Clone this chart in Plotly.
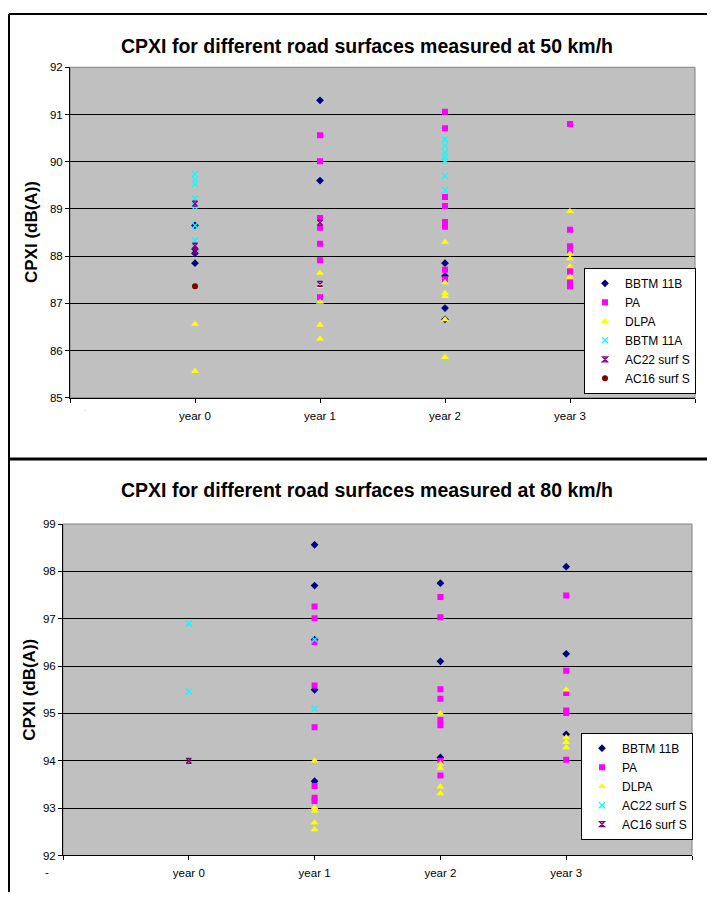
import plotly.graph_objects as go

# page body has an 8px margin; size the figure so the page fits the 715x906 window
OFF = 8
W, H = 715 - 2 * OFF, 906 - 2 * OFF
FONT = "Liberation Sans, Arial, sans-serif"

years = ["year 0", "year 1", "year 2", "year 3"]

# ---- 50 km/h (values per year: year 0, year 1, year 2, year 3) ----
bbtm11b_50 = [[88.65, 88.15, 88.06, 87.85], [91.3, 89.6], [87.85, 87.58, 86.9, 86.66], []]
pa_50 = [[], [90.56, 90.01, 88.81, 88.6, 88.26, 87.91, 87.13],
         [91.06, 90.71, 89.25, 89.06, 88.72, 88.62, 87.71, 87.51],
         [90.8, 88.56, 88.21, 88.08, 87.71, 87.67, 87.44, 87.36]]
dlpa_50 = [[86.56, 85.56], [87.64, 87.36, 87.03, 86.54, 86.25],
           [88.3, 87.44, 87.22, 87.15, 86.66, 85.86], [88.95, 88.05, 87.95, 87.78, 87.56]]
bbtm11a_50 = [[89.74, 89.63, 89.53, 89.22, 89.04, 88.65, 88.33], [],
              [90.47, 90.33, 90.2, 90.1, 90.02, 89.7, 89.4], []]
ac22_50 = [[89.11, 88.22, 88.1], [88.71, 87.41], [], []]
ac16_50 = [[87.36], [], [], []]

# ---- 80 km/h ----
bbtm11b_80 = [[], [98.56, 97.7, 96.56, 95.5, 93.57], [97.75, 96.1, 94.07], [98.1, 96.26, 94.56]]
pa_80 = [[], [97.26, 97.01, 96.51, 95.59, 94.71, 93.47, 93.22, 93.15],
         [97.46, 97.03, 95.51, 95.31, 94.86, 94.75, 94.0, 93.69],
         [97.49, 95.9, 95.43, 95.06, 95.01, 94.02]]
dlpa_80 = [[], [94.0, 93.01, 92.94, 92.69, 92.55], [95.0, 93.94, 93.85, 93.45, 93.31],
           [95.5, 94.49, 94.39, 94.28]]
ac22_80 = [[96.9, 95.46], [96.56, 95.1], [], []]
ac16_80 = [[94.0], [], [], []]

series_50 = [
    ("BBTM 11B", bbtm11b_50, "diamond", "#000080", 6),
    ("PA", pa_50, "square", "#FF00FF", 6),
    ("DLPA", dlpa_50, "triangle-up", "#FFFF00", 7),
    ("BBTM 11A", bbtm11a_50, "x-thin-open", "#00FFFF", 6),
    ("AC22 surf S", ac22_50, "hourglass-open", "#800080", 5),
    ("AC16 surf S", ac16_50, "circle", "#800000", 6),
]
series_80 = [
    ("BBTM 11B", bbtm11b_80, "diamond", "#000080", 6),
    ("PA", pa_80, "square", "#FF00FF", 6),
    ("DLPA", dlpa_80, "triangle-up", "#FFFF00", 7),
    ("AC22 surf S", ac22_80, "x-thin-open", "#00FFFF", 6),
    ("AC16 surf S", ac16_80, "hourglass-open", "#800080", 5),
]

fig = go.Figure()


def add_series(series, xa, ya, legend):
    for name, data, sym, col, size in series:
        xs, ys = [], []
        for i, vals in enumerate(data):
            for v in vals:
                xs.append(i + 1)
                ys.append(v)
        open_sym = sym.endswith("open")
        fig.add_trace(go.Scatter(
            x=xs, y=ys, mode="markers", name=name, xaxis=xa, yaxis=ya, legend=legend,
            marker=dict(symbol=sym, color=col, size=size,
                        line=dict(width=1.3 if open_sym else 0, color=col)),
        ))


add_series(series_50, "x", "y", "legend")
add_series(series_80, "x2", "y2", "legend2")


def px_x(p):
    return (p - OFF) / W


def px_y(p):
    return 1 - (p - OFF) / H


tickvals = [0, 1, 2, 3, 4, 5]
ticktext = [""] + years + [""]

xcommon = dict(range=[0, 5], tickvals=tickvals, ticktext=ticktext, showgrid=False,
               zeroline=False, showline=True, linecolor="black", linewidth=1,
               ticks="outside", ticklen=4, tickcolor="black", ticklabelstandoff=3,
               tickfont=dict(family=FONT, size=11.5, color="black"), fixedrange=True)
ycommon = dict(dtick=1, showgrid=True, gridcolor="black", gridwidth=1, zeroline=False,
               showline=True, linecolor="black", linewidth=1, ticks="outside",
               ticklen=4, tickcolor="black",
               tickfont=dict(family=FONT, size=11.5, color="black"), fixedrange=True)

legcommon = dict(bgcolor="white", bordercolor="black", borderwidth=1,
                 font=dict(family=FONT, size=12, color="black"),
                 xanchor="left", yanchor="bottom", itemwidth=30, tracegroupgap=0)

fig.update_layout(
    width=W, height=H, margin=dict(l=0, r=0, t=0, b=0),
    paper_bgcolor="white", plot_bgcolor="#C0C0C0",
    font=dict(family=FONT, color="black"),
    showlegend=True,
    xaxis=dict(domain=[px_x(70), px_x(695)], anchor="y", **xcommon),
    yaxis=dict(domain=[px_y(397), px_y(62)], anchor="x", range=[85, 92], **ycommon),
    xaxis2=dict(domain=[px_x(63), px_x(692)], anchor="y2", **xcommon),
    yaxis2=dict(domain=[px_y(861), px_y(525)], anchor="x2", range=[92, 99], **ycommon),
    legend=dict(x=px_x(584), y=px_y(393), **legcommon),
    legend2=dict(x=px_x(581), y=px_y(845), **legcommon),
)

# plot-area borders (grey) and outer frame
shapes = [
    dict(type="rect", xref="x domain", yref="y domain", x0=0, x1=1, y0=0, y1=1,
         line=dict(color="#808080", width=1), layer="below"),
    dict(type="rect", xref="x2 domain", yref="y2 domain", x0=0, x1=1, y0=0, y1=1,
         line=dict(color="#808080", width=1), layer="below"),
    dict(type="line", xref="paper", yref="paper", x0=px_x(9), x1=px_x(9), y0=0, y1=px_y(8),
         line=dict(color="black", width=2)),
    dict(type="line", xref="paper", yref="paper", x0=px_x(9), x1=1, y0=px_y(8), y1=px_y(8),
         line=dict(color="black", width=2)),
    dict(type="line", xref="paper", yref="paper", x0=px_x(9), x1=1, y0=px_y(459), y1=px_y(459),
         line=dict(color="black", width=3)),
]
fig.update_layout(shapes=shapes)

ann = [
    dict(text="<b>CPXI for different road surfaces measured at 50 km/h</b>", x=px_x(367), y=px_y(40),
         xref="paper", yref="paper", showarrow=False, xanchor="center", yanchor="middle",
         font=dict(family=FONT, size=19.5, color="black")),
    dict(text="<b>CPXI for different road surfaces measured at 80 km/h</b>", x=px_x(367), y=px_y(490),
         xref="paper", yref="paper", showarrow=False, xanchor="center", yanchor="middle",
         font=dict(family=FONT, size=19.5, color="black")),
    dict(text="<b>CPXI (dB(A))</b>", x=px_x(31), y=px_y(229), textangle=-90,
         xref="paper", yref="paper", showarrow=False, xanchor="center", yanchor="middle",
         font=dict(family=FONT, size=17, color="black")),
    dict(text="<b>CPXI (dB(A))</b>", x=px_x(30), y=px_y(693), textangle=-90,
         xref="paper", yref="paper", showarrow=False, xanchor="center", yanchor="middle",
         font=dict(family=FONT, size=17, color="black")),
    dict(text="-", x=px_x(47), y=px_y(878), xref="paper", yref="paper", showarrow=False,
         xanchor="center", yanchor="middle", font=dict(family=FONT, size=11.5, color="black")),
    dict(text="-", x=px_x(85), y=px_y(409), xref="paper", yref="paper", showarrow=False,
         xanchor="center", yanchor="middle", font=dict(family=FONT, size=8, color="#d8d8d8")),
]
fig.update_layout(annotations=ann)

fig.write_html("out.html")
